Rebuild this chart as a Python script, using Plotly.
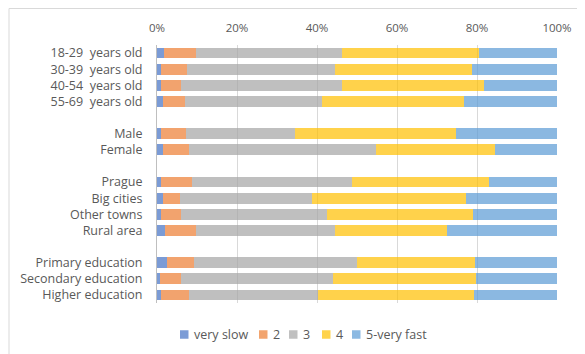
import plotly.graph_objects as go

categories = ["18-29  years old", "30-39  years old", "40-54  years old", "55-69  years old",
              "Male", "Female",
              "Prague", "Big cities", "Other towns", "Rural area",
              "Primary education", "Secondary education", "Higher education"]

# order on the axis, with blank spacer rows between the groups
axis_order = ["18-29  years old", "30-39  years old", "40-54  years old", "55-69  years old", " ",
              "Male", "Female", "  ",
              "Prague", "Big cities", "Other towns", "Rural area", "   ",
              "Primary education", "Secondary education", "Higher education"]

series_names = ["very slow", "2", "3", "4", "5-very fast"]

very_slow = [1.7, 0.9, 1.1, 1.5, 1.1, 1.5, 0.9, 1.5, 1.1, 2.1, 2.5, 0.75, 1.1]
s2 = [8.1, 6.7, 5.0, 5.6, 6.1, 6.5, 7.9, 4.25, 4.9, 7.7, 6.8, 5.35, 6.9]
s3 = [36.45, 36.8, 40.15, 34.2, 27.3, 46.75, 40.0, 33.0, 36.4, 34.6, 40.8, 37.9, 32.2]
s4 = [34.25, 34.4, 35.55, 35.45, 40.2, 29.75, 34.1, 38.45, 36.6, 28.2, 29.4, 35.8, 39.05]
very_fast = [19.5, 21.2, 18.2, 23.25, 25.3, 15.5, 17.1, 22.8, 21.0, 27.4, 20.5, 20.2, 20.75]

tick_vals = [0, 20, 40, 60, 80, 100]
tick_text = ["0%", "20%", "40%", "60%", "80%", "100%"]

colors = ["#4472C4", "#ED7D31", "#A5A5A5", "#FFC000", "#5B9BD5"]
values = [very_slow, s2, s3, s4, very_fast]

# page layout (window pixels); the page body adds an 8px offset
OFF = 8
W, H = 585 - OFF, 354 - OFF
PL, PR, PT, PB = 157, 557, 45, 303   # plot area in window pixels
PW, PH = PR - PL, PB - PT

def px_x(X):
    return (X - PL) / PW

def px_y(Y):
    return (PB - Y) / PH

fig = go.Figure()
for name, vals, col in zip(series_names, values, colors):
    fig.add_trace(go.Bar(
        y=categories, x=vals, name=name, orientation="h",
        marker=dict(color=col, line=dict(width=0)), opacity=0.7, showlegend=False,
    ))

font_family = "'Open Sans', sans-serif"
txt_col = "#595959"

# custom compact legend (Excel style)
legend_x = [180, 259, 289, 322, 352]
legend_y = 334.5
shapes = [dict(type="rect", xref="paper", yref="paper",
               x0=px_x(9), x1=px_x(620), y0=px_y(380), y1=px_y(8.5),
               line=dict(color="#D9D9D9", width=1), fillcolor="rgba(0,0,0,0)", layer="below")]
annotations = []
for name, col, lx in zip(series_names, colors, legend_x):
    shapes.append(dict(type="rect", xref="paper", yref="paper",
                       x0=px_x(lx), x1=px_x(lx + 8.5),
                       y0=px_y(legend_y + 4.25), y1=px_y(legend_y - 4.25),
                       line=dict(width=0), fillcolor=col, opacity=0.7))
    annotations.append(dict(text=name, xref="paper", yref="paper",
                            x=px_x(lx + 12), y=px_y(legend_y), xanchor="left", yanchor="middle",
                            showarrow=False, font=dict(size=12.5, color=txt_col, family=font_family)))

fig.update_layout(
    barmode="stack",
    bargap=0.34,
    width=W, height=H,
    margin=dict(l=PL - OFF, r=585 - PR, t=PT - OFF, b=354 - PB, autoexpand=False),
    paper_bgcolor="white", plot_bgcolor="white",
    font=dict(family=font_family, size=12.5, color=txt_col),
    showlegend=False,
    xaxis=dict(range=[0, 100], side="top", tickvals=tick_vals, ticktext=tick_text,
               showgrid=True, gridcolor="#D9D9D9", gridwidth=1, zeroline=False,
               showline=False, ticks="", ticklabelstandoff=10,
               tickfont=dict(size=11.5, color=txt_col)),
    yaxis=dict(type="category", categoryorder="array", categoryarray=axis_order,
               range=[len(axis_order) - 0.5, -0.5], showgrid=False, zeroline=False,
               showline=True, linecolor="#BFBFBF", linewidth=1, ticks="",
               ticklabelstandoff=11, tickfont=dict(size=12.5, color=txt_col)),
    shapes=shapes,
    annotations=annotations,
)

fig.write_html("out.html")
